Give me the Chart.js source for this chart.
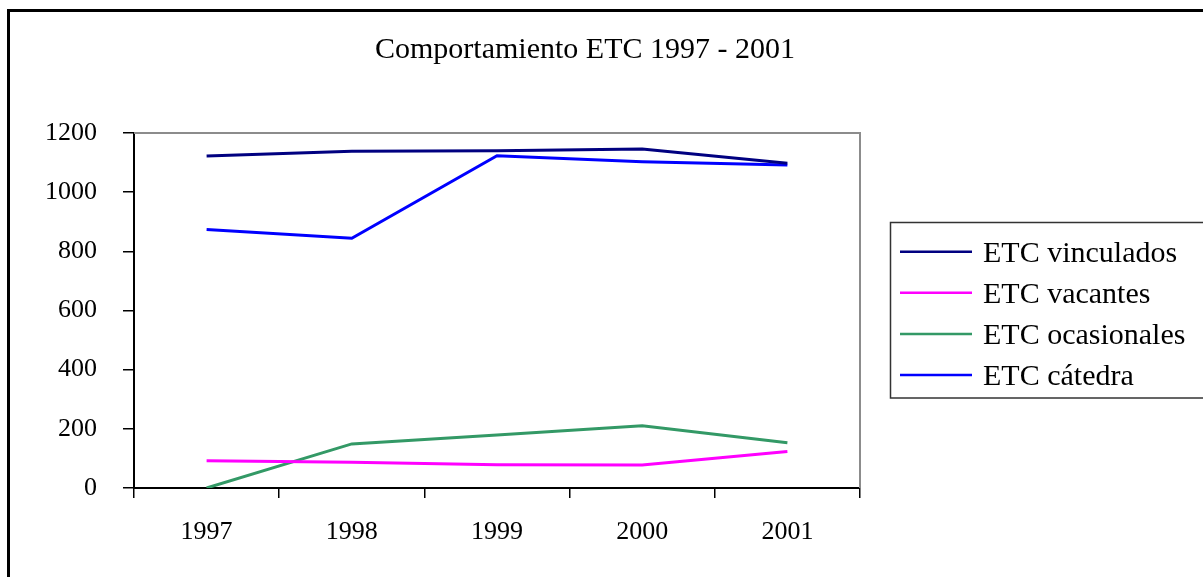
<!DOCTYPE html>
<html>
<head>
<meta charset="utf-8">
<script src="https://cdn.jsdelivr.net/npm/chart.js@4/dist/chart.umd.min.js"></script>
<style>
  html, body { margin: 0; padding: 0; background: #fff; }
  #wrap { position: relative; width: 1203px; height: 577px; }
</style>
</head>
<body>
<div id="wrap"><canvas id="c" width="1203" height="577"></canvas></div>
<script>
const chartTitle = "Comportamiento ETC 1997 - 2001";
const categories = ["1997", "1998", "1999", "2000", "2001"];
const seriesNames = ["ETC vinculados", "ETC vacantes", "ETC ocasionales", "ETC cátedra"];
const vinculados = [1122, 1138, 1140, 1146, 1098];
const vacantes = [92, 87, 79, 78, 123];
const ocasionales = [0, 149, 179, 210, 153];
const catedra = [874, 844, 1123, 1103, 1092];
const seriesColors = ["#000080", "#FF00FF", "#339966", "#0000FF"];
const yTicks = [0, 200, 400, 600, 800, 1000, 1200];

const FONT = "'Liberation Serif', 'Times New Roman', serif";
const seriesValues = [vinculados, vacantes, ocasionales, catedra];

const decorPlugin = {
  id: 'decor',
  beforeDraw(chart) {
    const ctx = chart.ctx;
    ctx.save();
    ctx.fillStyle = '#fff';
    ctx.fillRect(0, 0, chart.width, chart.height);
    ctx.fillStyle = '#000';
    ctx.fillRect(7, 9, chart.width, 3);
    ctx.fillRect(7, 9, 3, chart.height);
    ctx.fillStyle = '#000';
    ctx.font = '30px ' + FONT;
    ctx.textAlign = 'center';
    ctx.textBaseline = 'alphabetic';
    ctx.fillText(chartTitle, 585, 58);
    ctx.restore();
  },
  afterDraw(chart) {
    const ctx = chart.ctx;
    const a = chart.chartArea;
    ctx.save();
    ctx.strokeStyle = '#8c8c8c';
    ctx.lineWidth = 2;
    ctx.beginPath();
    ctx.moveTo(a.left, a.top);
    ctx.lineTo(a.right, a.top);
    ctx.lineTo(a.right, a.bottom);
    ctx.stroke();
    const bx = 890.5, by = 222.5, bw = 400, bh = 175.5;
    ctx.strokeStyle = '#333';
    ctx.lineWidth = 1.5;
    ctx.strokeRect(bx, by, bw, bh);
    ctx.font = '30px ' + FONT;
    ctx.textAlign = 'left';
    ctx.textBaseline = 'alphabetic';
    chart.data.datasets.forEach((ds, i) => {
      const y = 251.7 + i * 41.1;
      ctx.strokeStyle = ds.borderColor;
      ctx.lineWidth = 2.5;
      ctx.beginPath();
      ctx.moveTo(900, y);
      ctx.lineTo(972, y);
      ctx.stroke();
      ctx.fillStyle = '#000';
      ctx.fillText(ds.label, 983, y + 10);
    });
    ctx.restore();
  }
};

new Chart(document.getElementById('c'), {
  type: 'line',
  data: {
    labels: categories,
    datasets: seriesNames.map((n, i) => ({
      label: n,
      data: seriesValues[i],
      borderColor: seriesColors[i],
      backgroundColor: seriesColors[i],
      borderWidth: 3,
      pointRadius: 0,
      tension: 0,
      fill: false
    }))
  },
  options: {
    responsive: false,
    animation: false,
    devicePixelRatio: 1,
    layout: { padding: { left: 0, top: 133, right: 343, bottom: 0 } },
    plugins: {
      legend: { display: false },
      title: { display: false },
      tooltip: { enabled: false }
    },
    scales: {
      x: {
        type: 'category',
        offset: true,
        grid: { display: true, offset: true, drawOnChartArea: false, drawTicks: true, tickLength: 10, color: '#000', lineWidth: 1.5 },
        border: { display: true, color: '#000', width: 2 },
        ticks: { color: '#000', font: { family: FONT, size: 26 }, padding: 19, maxRotation: 0 },
        afterFit(s) { s.height = 89; }
      },
      y: {
        min: 0, max: 1200,
        afterBuildTicks(s) { s.ticks = yTicks.map(v => ({ value: v })); },
        grid: { display: true, drawOnChartArea: false, drawTicks: true, tickLength: 11, color: '#000', lineWidth: 1.5 },
        border: { display: true, color: '#000', width: 2 },
        ticks: { color: '#000', font: { family: FONT, size: 26 }, padding: 26, callback: v => String(v) },
        afterFit(s) { s.width = 134; }
      }
    }
  },
  plugins: [decorPlugin]
});
</script>
</body>
</html>
